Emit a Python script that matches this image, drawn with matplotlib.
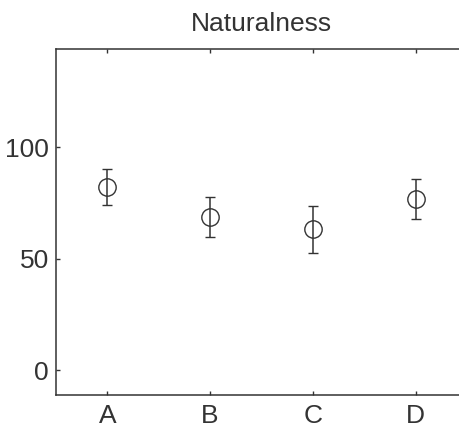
import matplotlib
matplotlib.use("Agg")
import matplotlib.pyplot as plt

# data
conditions = ['A', 'B', 'C', 'D']
means = [82.0, 68.5, 63.2, 76.7]
errors = [8.0, 9.0, 10.5, 9.0]
yticks = [0, 50, 100]

plt.rcParams['font.family'] = ['Liberation Sans', 'DejaVu Sans']
col = '#333333'

fig = plt.figure(figsize=(4.6, 4.28), dpi=100)
# axes runs past the right edge, like the reference crop
ax = fig.add_axes([56 / 460, 33.3 / 428, 411 / 460, 345.7 / 428])

x = list(range(1, len(conditions) + 1))
ax.errorbar(x, means, yerr=errors, fmt='o', mfc='none', mec=col, ms=12.5,
            mew=1.0, ecolor=col, elinewidth=1.1, capsize=3.4, capthick=1.1)

ax.set_xlim(0.5, 4.5)
ax.set_ylim(-11, 144)
ax.set_xticks(x)
ax.set_xticklabels(conditions)
ax.set_yticks(yticks)

for s in ax.spines.values():
    s.set_color(col)
    s.set_linewidth(1.1)

ax.tick_params(axis='x', direction='in', top=True, length=3, width=1,
               color=col, labelcolor=col, labelsize=19, pad=7)
ax.tick_params(axis='y', direction='in', right=True, length=3, width=1,
               color=col, labelcolor=col, labelsize=19, pad=5)

ax.set_title('Naturalness', fontsize=19, color=col, pad=13)

fig.savefig('out.png', dpi=100)
